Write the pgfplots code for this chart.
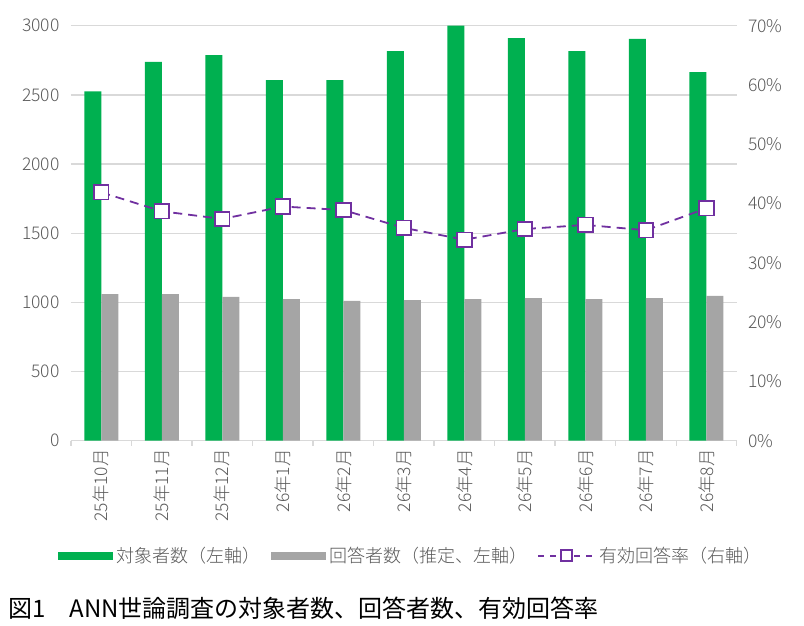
\documentclass[border=0pt]{standalone}
\usepackage{fontspec}
\setmainfont{Noto Sans CJK JP Light}
\newfontfamily\capfont{Noto Sans CJK JP}
\usepackage{pgfplots}
\pgfplotsset{compat=1.18}
\definecolor{barG}{HTML}{00B050}
\definecolor{barY}{HTML}{A5A5A5}
\definecolor{lineP}{HTML}{7030A0}
\definecolor{gridC}{HTML}{D9D9D9}
\definecolor{txtC}{HTML}{595959}
\newcommand\tickfont{\fontsize{17.5}{20}\selectfont}
\newcommand\legfont{\fontsize{18}{20}\selectfont}
\begin{document}
\begin{tikzpicture}
\path[use as bounding box] (0pt,0pt) rectangle (804pt,626pt);
\begin{axis}[
  at={(71pt,185.3pt)}, anchor=south west,
  scale only axis, width=665.7pt, height=415pt,
  xmin=-0.5, xmax=10.5, ymin=0, ymax=3000,
  ybar=0pt, bar width=17pt,
  xtick={0,...,10},
  xticklabels={25年10月,25年11月,25年12月,26年1月,26年2月,26年3月,26年4月,26年5月,26年6月,26年7月,26年8月},
  minor xtick={-0.5,0.5,...,10.5},
  tick align=outside,
  major tick length=0pt, minor tick length=5pt,
  major x tick style={draw=none},
  minor x tick style={draw=gridC, line width=1.3pt},
  major y tick style={draw=none},
  ytick={0,500,...,3000},
  ymajorgrids, grid style={draw=gridC, line width=1.3pt},
  axis x line*=bottom, axis y line*=left,
  x axis line style={draw=gridC, line width=1.5pt, -},
  y axis line style={draw=none},
  xticklabel style={rotate=90, anchor=east, font=\tickfont, text=txtC},
  yticklabel style={font=\tickfont, text=txtC},
  xticklabel shift=5pt, yticklabel shift=8pt,
  /pgf/number format/assume math mode=true,
  /pgf/number format/1000 sep={},
]
\addplot[fill=barG, draw=none] coordinates {(0,2525) (1,2738) (2,2788) (3,2607) (4,2607) (5,2817) (6,3000) (7,2911) (8,2817) (9,2904) (10,2665)};
\addplot[fill=barY, draw=none] coordinates {(0,1060) (1,1060) (2,1039) (3,1024) (4,1010) (5,1017) (6,1024) (7,1031) (8,1024) (9,1031) (10,1046)};
\end{axis}
\begin{axis}[
  at={(71pt,185.3pt)}, anchor=south west,
  scale only axis, width=665.7pt, height=415pt,
  xmin=-0.5, xmax=10.5, ymin=0, ymax=70,
  axis x line=none, axis y line*=right,
  y axis line style={draw=none},
  ytick={0,10,...,70},
  major y tick style={draw=none}, major tick length=0pt,
  yticklabel={\pgfmathprintnumber{\tick}\%},
  yticklabel style={font=\tickfont, text=txtC, anchor=west},
  yticklabel shift=8pt,
  /pgf/number format/assume math mode=true,
  clip=false,
  legend columns=3,
  legend style={at={(0.511,-0.277)}, anchor=center, draw=none, fill=none,
    font=\legfont, text=txtC,
    /tikz/every even column/.append style={column sep=8pt},
    /tikz/every odd column/.append style={column sep=2pt}},
]
\addlegendimage{legend image code/.code={\fill[barG] (0pt,-3.5pt) rectangle (54pt,3.5pt);}}
\addlegendentry{対象者数（左軸）}
\addlegendimage{legend image code/.code={\fill[barY] (0pt,-3.5pt) rectangle (54pt,3.5pt);}}
\addlegendentry{回答者数（推定、左軸）}
\addlegendimage{legend image code/.code={
  \draw[lineP, line width=1.8pt, dash pattern=on 6pt off 6pt] (0pt,0pt) -- (57pt,0pt);
  \draw[lineP, fill=white, line width=1.8pt] (23pt,-5.5pt) rectangle (34pt,5.5pt);}}
\addlegendentry{有効回答率（右軸）}
\addplot[lineP, line width=1.8pt, dash pattern=on 9pt off 6pt,
  mark=square*, mark size=7.3pt,
  mark options={solid, fill=white, draw=lineP, line width=1.8pt}]
  coordinates {(0,41.9) (1,38.7) (2,37.4) (3,39.5) (4,38.9) (5,35.9) (6,33.9) (7,35.7) (8,36.4) (9,35.5) (10,39.2)};
\end{axis}
\node[anchor=west, inner sep=0pt, font=\capfont\fontsize{24}{27}\selectfont] at (8pt,18pt) {図1　ANN世論調査の対象者数、回答者数、有効回答率};
\end{tikzpicture}
\end{document}
